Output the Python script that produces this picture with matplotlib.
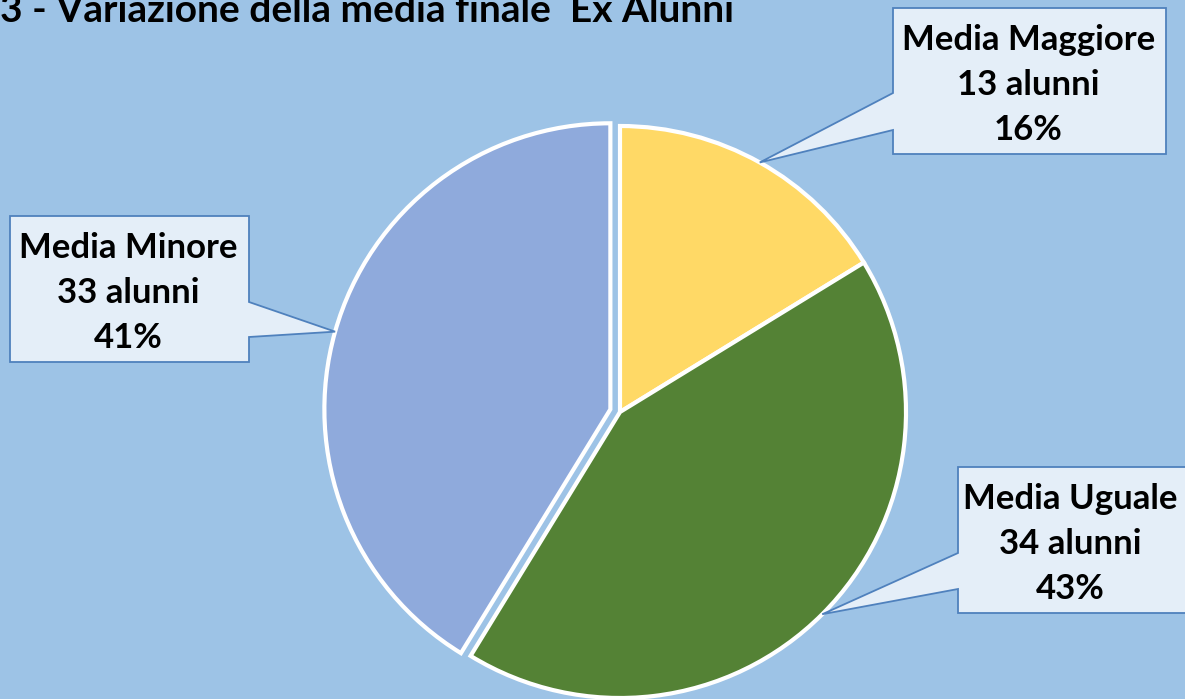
import numpy as np
import matplotlib.pyplot as plt
from matplotlib.patches import Polygon

# data
categories = ["Media Maggiore", "Media Uguale", "Media Minore"]
alunni = [13, 34, 33]
colors = ["#FFD966", "#548235", "#8FAADC"]
title = "3 - Variazione della media finale  Ex Alunni"

W, H = 1185, 699
bg = "#9DC3E6"

plt.rcParams['font.family'] = ['Lato', 'DejaVu Sans']

fig = plt.figure(figsize=(W / 100, H / 100), dpi=100, facecolor=bg)
ax = fig.add_axes([0, 0, 1, 1])
ax.set_facecolor(bg)

cx, cy, R = 620, H - 412, 286
wedges, _ = ax.pie(
    alunni,
    colors=colors,
    startangle=90,
    counterclock=False,
    radius=R,
    center=(cx, cy),
    explode=[0, 0, 10],
    wedgeprops=dict(edgecolor="white", linewidth=3),
)

ax.set_xlim(0, W)
ax.set_ylim(0, H)
ax.axis("off")

# callout boxes (image coords: left, top, right, bottom, notch y1, notch y2, side)
boxes = [
    (893, 8, 1166, 154, 93, 130, "left"),
    (958, 467, 1192, 613, 553, 589, "left"),
    (10, 216, 249, 362, 302, 337, "right"),
]

total = sum(alunni)
for w, name, n, (l, t, r, b, n1, n2, side) in zip(wedges, categories, alunni, boxes):
    ang = np.deg2rad((w.theta1 + w.theta2) / 2)
    wx, wy = w.center
    tip = (wx + R * np.cos(ang), wy + R * np.sin(ang))
    t_, b_, n1_, n2_ = H - t, H - b, H - n1, H - n2
    if side == "left":
        pts = [(l, t_), (r, t_), (r, b_), (l, b_), (l, n2_), tip, (l, n1_)]
    else:
        pts = [(l, t_), (r, t_), (r, n1_), tip, (r, n2_), (r, b_), (l, b_)]
    ax.add_patch(Polygon(pts, closed=True, facecolor="#E4EEF8",
                         edgecolor="#4F81BD", linewidth=1.3, zorder=5))
    pct = int(100 * n / total + 0.5)
    ax.text((l + min(r, W)) / 2 - 1,
            (t_ + b_) / 2 - 4,
            f"{name}\n{n} alunni\n{pct}%",
            ha="center", va="center", fontsize=25, fontweight="bold",
            linespacing=1.5, color="black", zorder=6)

# title is clipped at the top edge, as in the reference
fig.text(0, 1 - 22 / H, title, ha="left", va="baseline",
         fontsize=28, fontweight="bold", color="black")

fig.savefig("out.png", dpi=100, facecolor=bg)
